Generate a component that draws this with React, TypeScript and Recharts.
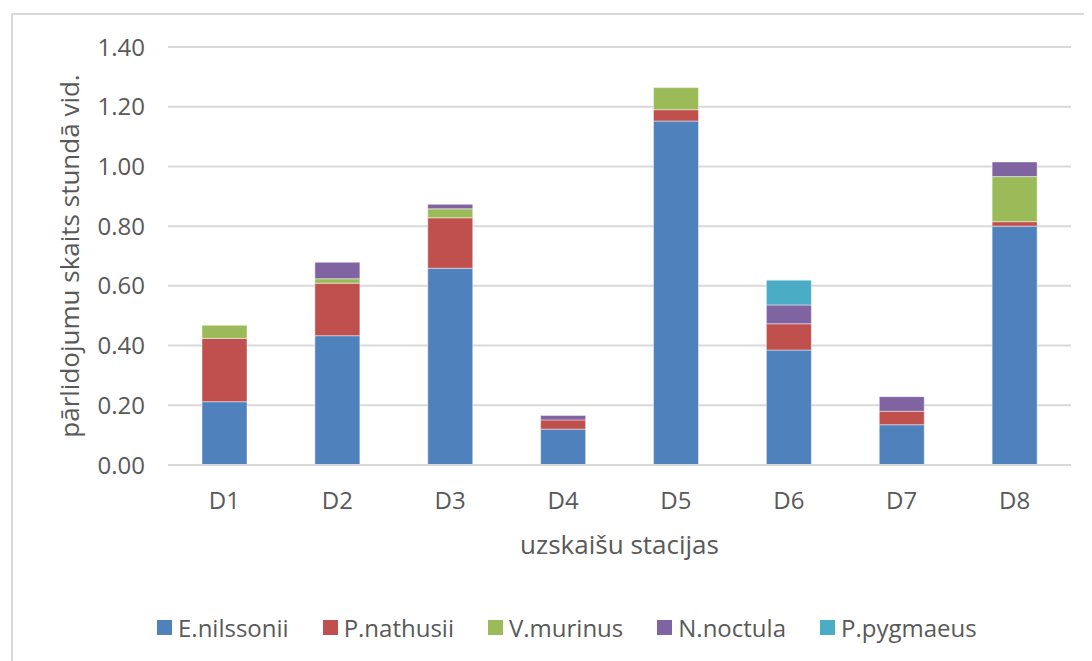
import { BarChart, Bar, XAxis, YAxis, CartesianGrid, Legend } from "recharts";

const stations = ["D1", "D2", "D3", "D4", "D5", "D6", "D7", "D8"];

const eNilssonii = [0.212, 0.433, 0.659, 0.12, 1.152, 0.385, 0.135, 0.8];
const pNathusii = [0.212, 0.176, 0.169, 0.031, 0.038, 0.088, 0.045, 0.015];
const vMurinus = [0.044, 0.015, 0.03, 0, 0.074, 0, 0, 0.151];
const nNoctula = [0, 0.055, 0.015, 0.015, 0, 0.063, 0.049, 0.049];
const pPygmaeus = [0, 0, 0, 0, 0, 0.083, 0, 0];

const yTicks = [0, 0.2, 0.4, 0.6, 0.8, 1.0, 1.2, 1.4];

const series = [
  { key: "E.nilssonii", values: eNilssonii, color: "#4f81bd" },
  { key: "P.nathusii", values: pNathusii, color: "#c0504d" },
  { key: "V.murinus", values: vMurinus, color: "#9bbb59" },
  { key: "N.noctula", values: nNoctula, color: "#8064a2" },
  { key: "P.pygmaeus", values: pPygmaeus, color: "#4bacc6" },
];

const data = stations.map((name, i) => {
  const row: Record<string, string | number> = { name };
  series.forEach((s) => {
    row[s.key] = s.values[i];
  });
  return row;
});

const FONT = "'Open Sans', sans-serif";
const TEXT = "#595959";
const GRID = "#d9d9d9";

function LegendBox() {
  return (
    <div style={{ display: "flex", alignItems: "center", fontFamily: FONT, fontSize: 24, color: TEXT, whiteSpace: "nowrap" }}>
      {series.map((s) => (
        <div key={s.key} style={{ display: "flex", alignItems: "center", marginRight: 34 }}>
          <span style={{ width: 15, height: 15, background: s.color, marginRight: 6, display: "inline-block" }} />
          <span>{s.key}</span>
        </div>
      ))}
    </div>
  );
}

export default function App() {
  return (
    <div style={{ position: "relative", width: 1084, height: 653, background: "#fff" }}>
      <div
        style={{
          position: "absolute",
          left: 3,
          top: 5,
          right: -20,
          bottom: -20,
          borderTop: `2px solid ${GRID}`,
          borderLeft: `2px solid ${GRID}`,
        }}
      />
      <BarChart
        width={1084}
        height={653}
        data={data}
        margin={{ top: 39, right: 21, bottom: 136, left: 0 }}
        barSize={45}
      >
        <CartesianGrid vertical={false} stroke={GRID} strokeWidth={2} />
        <XAxis
          dataKey="name"
          height={60}
          tickSize={0}
          tickMargin={27}
          axisLine={{ stroke: GRID, strokeWidth: 2 }}
          tick={{ fontFamily: FONT, fontSize: 24, fill: TEXT }}
          label={{
            value: "uzskaišu stacijas",
            position: "bottom",
            offset: 11,
            style: { fontFamily: FONT, fontSize: 26, fill: TEXT },
          }}
        />
        <YAxis
          width={160}
          domain={[0, 1.4]}
          ticks={yTicks}
          tickSize={0}
          tickMargin={23}
          axisLine={false}
          tickFormatter={(v) => Number(v).toFixed(2)}
          tick={{ fontFamily: FONT, fontSize: 24, fill: TEXT }}
          label={{
            value: "pārlidojumu skaits stundā vid.",
            angle: -90,
            position: "center",
            dx: -18,
            style: { fontFamily: FONT, fontSize: 26, fill: TEXT, textAnchor: "middle" },
          }}
        />
        <Legend
          layout="horizontal"
          verticalAlign="middle"
          align="center"
          content={() => <LegendBox />}
          wrapperStyle={{ left: 149, top: 603, width: "auto" }}
        />
        {series.map((s) => (
          <Bar
            key={s.key}
            dataKey={s.key}
            stackId="a"
            fill={s.color}
            stroke="#ffffff"
            strokeOpacity={0.45}
            strokeWidth={1}
            isAnimationActive={false}
          />
        ))}
      </BarChart>
    </div>
  );
}
